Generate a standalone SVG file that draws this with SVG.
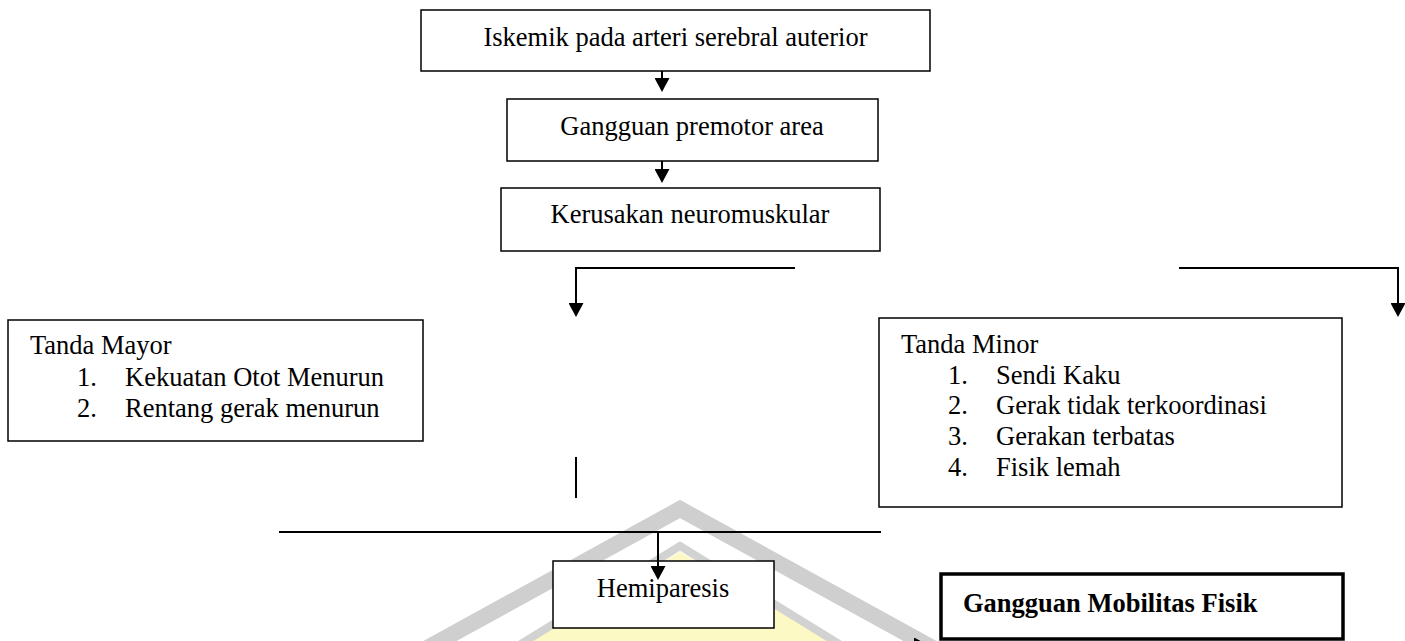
<svg xmlns="http://www.w3.org/2000/svg" width="1405" height="641" viewBox="0 0 1405 641">
<style>
text{font-family:"Liberation Serif","Times New Roman",serif;font-size:26.5px;fill:#000}
.c{text-anchor:middle}
.b{font-weight:bold}
.box{fill:#fff;stroke:#000;stroke-width:1.5}
.thick{fill:#fff;stroke:#000;stroke-width:3.5}
.ln{fill:none;stroke:#000;stroke-width:2}
</style>
<defs>
<marker id="ah" viewBox="0 0 14 15" refX="12" refY="7.5" markerWidth="14" markerHeight="15" markerUnits="userSpaceOnUse" orient="auto">
<path d="M0,0 L14,7.5 L0,15 z" fill="#000"/>
</marker>
</defs>
<rect width="1405" height="641" fill="#fff"/>
<g id="watermark">
<polygon points="680,552 420,700 940,700" fill="#fdf9c4"/>
<polyline points="430,700 680,546 930,700" fill="none" stroke="#d2d2d2" stroke-width="8"/>
<polyline points="420,652 680,509 940,652" fill="none" stroke="#cfcfcf" stroke-width="16"/>
</g>
<g id="n1"><rect class="box" x="421" y="10" width="509" height="61"/><text class="c" x="675.5" y="46">Iskemik pada arteri serebral auterior</text></g>
<g id="n2"><rect class="box" x="507" y="99" width="371" height="62"/><text class="c" x="692" y="135">Gangguan premotor area</text></g>
<g id="n3"><rect class="box" x="501" y="188" width="379" height="63"/><text class="c" x="690" y="223">Kerusakan neuromuskular</text></g>
<g id="n4"><rect class="box" x="8" y="320" width="415" height="121"/>
<text x="30" y="354">Tanda Mayor</text>
<text x="77" y="386">1.</text><text x="125" y="386">Kekuatan Otot Menurun</text>
<text x="77" y="417">2.</text><text x="125" y="417">Rentang gerak menurun</text>
</g>
<g id="n5"><rect class="box" x="879" y="318" width="463" height="189"/>
<text x="901" y="353">Tanda Minor</text>
<text x="948" y="384">1.</text><text x="996" y="384">Sendi Kaku</text>
<text x="948" y="414">2.</text><text x="996" y="414">Gerak tidak terkoordinasi</text>
<text x="948" y="445">3.</text><text x="996" y="445">Gerakan terbatas</text>
<text x="948" y="476">4.</text><text x="996" y="476">Fisik lemah</text>
</g>
<g id="n6"><rect class="box" x="553" y="561" width="221" height="67"/><text class="c" x="663" y="597">Hemiparesis</text></g>
<g id="n7"><rect class="thick" x="941" y="574" width="402" height="65"/><text class="b" x="963" y="612">Gangguan Mobilitas Fisik</text></g>
<g id="connectors">
<line class="ln" x1="662" y1="71" x2="662" y2="90" marker-end="url(#ah)"/>
<line class="ln" x1="662" y1="161" x2="662" y2="181" marker-end="url(#ah)"/>
<polyline class="ln" points="795,268 576,268 576,315" marker-end="url(#ah)"/>
<polyline class="ln" points="1179,268 1398,268 1398,315" marker-end="url(#ah)"/>
<line class="ln" x1="576" y1="457" x2="576" y2="498"/>
<line class="ln" x1="279" y1="532" x2="881" y2="532"/>
<line class="ln" x1="658" y1="532" x2="658" y2="578" marker-end="url(#ah)"/>
<line class="ln" x1="776" y1="645" x2="926" y2="645" marker-end="url(#ah)"/>
</g>
</svg>
